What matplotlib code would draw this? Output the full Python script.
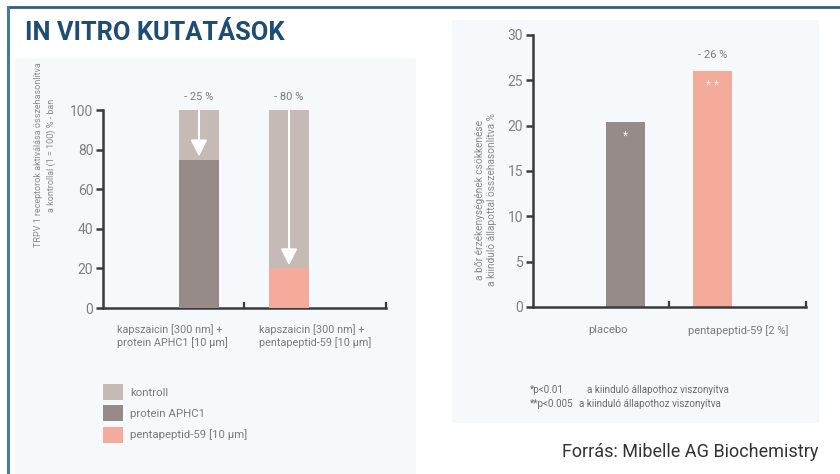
import matplotlib
matplotlib.use("Agg")
import matplotlib.pyplot as plt
from matplotlib.patches import Patch, Rectangle
from matplotlib.lines import Line2D
from matplotlib import font_manager

# ---------------- data ----------------
left_categories = ["kapszaicin [300 nm] +\nprotein APHC1 [10 µm]",
                   "kapszaicin [300 nm] +\npentapeptid-59 [10 µm]"]
kontroll_values = [100, 100]
treatment_values = [75, 20]
left_reduction = ["- 25 %", "- 80 %"]
left_yticks = [0, 20, 40, 60, 80, 100]

right_categories = ["placebo", "pentapeptid-59 [2 %]"]
right_values = [20.4, 26]
right_stars = ["*", "* *"]
right_labels = ["", "- 26 %"]
right_yticks = [0, 5, 10, 15, 20, 25, 30]

legend_labels = ["kontroll", "protein APHC1", "pentapeptid-59 [10 µm]"]

# ---------------- style ----------------
C_KONTROLL = "#c5bab5"
C_APHC1 = "#968b88"
C_PENTA = "#f5ab9c"
C_AXIS = "#3a3a3a"
C_TEXT = "#7a7a7a"
C_BORDER = "#2c5f82"
C_PANEL = "#f6f9fb"
C_TITLE = "#1d4d74"

avail = {f.name for f in font_manager.fontManager.ttflist}
BASE = "Roboto" if "Roboto" in avail else "DejaVu Sans"
plt.rcParams["font.family"] = [BASE, "DejaVu Sans"]

W, H = 840, 474
fig = plt.figure(figsize=(W / 100, H / 100), dpi=100)
fig.patch.set_facecolor("white")


def fx(px):
    return px / W


def fy(py):
    return 1 - py / H


# panels background
fig.patches.append(Rectangle((fx(15), fy(474)), fx(416) - fx(15), fy(58) - fy(474),
                             transform=fig.transFigure, facecolor=C_PANEL, edgecolor="none", zorder=-5))
fig.patches.append(Rectangle((fx(452), fy(423)), fx(819) - fx(452), fy(20) - fy(423),
                             transform=fig.transFigure, facecolor=C_PANEL, edgecolor="none", zorder=-5))
# border lines
fig.add_artist(Line2D([fx(8), 1], [fy(7), fy(7)], transform=fig.transFigure, color=C_BORDER, lw=2))
fig.add_artist(Line2D([fx(8), fx(8)], [fy(7), 0], transform=fig.transFigure, color="#4a7898", lw=2.2))

# title
fig.text(fx(25), fy(33), "IN VITRO KUTATÁSOK", fontsize=18.3, fontweight="bold",
         color=C_TITLE, ha="left", va="center")

XLIM = (-1.066, 2.077)
BW = 0.44


def style_axes(ax, yticks):
    ax.set_facecolor("none")
    for s in ("top", "right"):
        ax.spines[s].set_visible(False)
    for s in ("left", "bottom"):
        ax.spines[s].set_color(C_AXIS)
        ax.spines[s].set_linewidth(1.8)
    ax.set_yticks(yticks)
    ax.tick_params(axis="y", direction="out", length=5, width=1.8, color=C_AXIS,
                   labelsize=10, labelcolor="#808080", pad=2)
    ax.set_xticks([0.5, XLIM[1]])
    ax.set_xticklabels([])
    ax.tick_params(axis="x", direction="in", length=4, width=1.6, color=C_AXIS)


# ---------------- left chart ----------------
axL = fig.add_axes([fx(103), fy(308), fx(386) - fx(103), fy(110) - fy(308)])
axL.set_xlim(*XLIM)
axL.set_ylim(0, 100)
xs = list(range(len(left_categories)))
axL.bar(xs, kontroll_values, width=BW, color=C_KONTROLL, zorder=2, clip_on=False)
treat_colors = [C_APHC1, C_PENTA]
axL.bar(xs, treatment_values, width=BW, color=treat_colors, zorder=3)
for x, k, t, lab in zip(xs, kontroll_values, treatment_values, left_reduction):
    axL.annotate("", xy=(x, t + 1.5), xytext=(x, k + 1),
                 arrowprops=dict(arrowstyle="-|>,head_width=0.45,head_length=0.9",
                                 color="white", lw=1.5, mutation_scale=11,
                                 shrinkA=0, shrinkB=0),
                 zorder=4, annotation_clip=False)
    axL.text(x, k + 4, lab, ha="center", va="bottom", fontsize=8, color=C_TEXT)
style_axes(axL, left_yticks)
for i, cat in enumerate(left_categories):
    axL.text(0.05 + 0.5 * i, -0.08, cat, transform=axL.transAxes, ha="left", va="top",
             fontsize=7.8, color=C_TEXT, linespacing=1.25)
fig.text(fx(45), fy(155), "TRPV 1 receptorok aktiválása összehasonlítva\na kontrollal (1 = 100) % - ban",
         rotation=90, ha="center", va="center", fontsize=6.5, color="#8a8a8a", linespacing=1.4)

# legend
handles = [Patch(facecolor=c, edgecolor="none") for c in (C_KONTROLL, C_APHC1, C_PENTA)]
fig.legend(handles, legend_labels, loc="upper left", bbox_to_anchor=(fx(103), fy(384)),
           frameon=False, fontsize=8.2, labelcolor=C_TEXT, handlelength=1.75, handleheight=1.75,
           labelspacing=0.5, handletextpad=0.6, borderpad=0, borderaxespad=0)

# ---------------- right chart ----------------
axR = fig.add_axes([fx(533), fy(307), fx(806) - fx(533), fy(35) - fy(307)])
axR.set_xlim(*XLIM)
axR.set_ylim(0, 30)
xr = list(range(len(right_categories)))
axR.bar(xr, right_values, width=BW, color=[C_APHC1, C_PENTA], zorder=2)
for x, v, st, lab in zip(xr, right_values, right_stars, right_labels):
    axR.text(x, v - 1.6, st, ha="center", va="center", fontsize=8.5, color="#f3ece9")
    if lab:
        axR.text(x, v + 1.2, lab, ha="center", va="bottom", fontsize=8, color=C_TEXT)
style_axes(axR, right_yticks)
for i, cat in enumerate(right_categories):
    axR.text(0.275 + 0.475 * i, -0.065, cat, transform=axR.transAxes, ha="center", va="top",
             fontsize=8, color=C_TEXT)
fig.text(fx(486), fy(200), "a bőr érzékenységének csökkenése\na kiinduló állapottal összehasonlítva %",
         rotation=90, ha="center", va="center", fontsize=7.3, color="#8a8a8a", linespacing=1.3)

# footnotes
FN = 7.1
fig.text(fx(530), fy(390), "*p<0.01", fontsize=FN, color="#6a6a6a", ha="left", va="center")
fig.text(fx(587), fy(390), "a kiinduló állapothoz viszonyítva", fontsize=FN, color="#6a6a6a",
         ha="left", va="center")
fig.text(fx(530), fy(404), "**p<0.005", fontsize=FN, color="#6a6a6a", ha="left", va="center")
fig.text(fx(579), fy(404), "a kiinduló állapothoz viszonyítva", fontsize=FN, color="#6a6a6a",
         ha="left", va="center")

fig.text(fx(818), fy(452), "Forrás: Mibelle AG Biochemistry", fontsize=13, color="#333333",
         ha="right", va="center")

fig.savefig("out.png", dpi=100, facecolor="white")
